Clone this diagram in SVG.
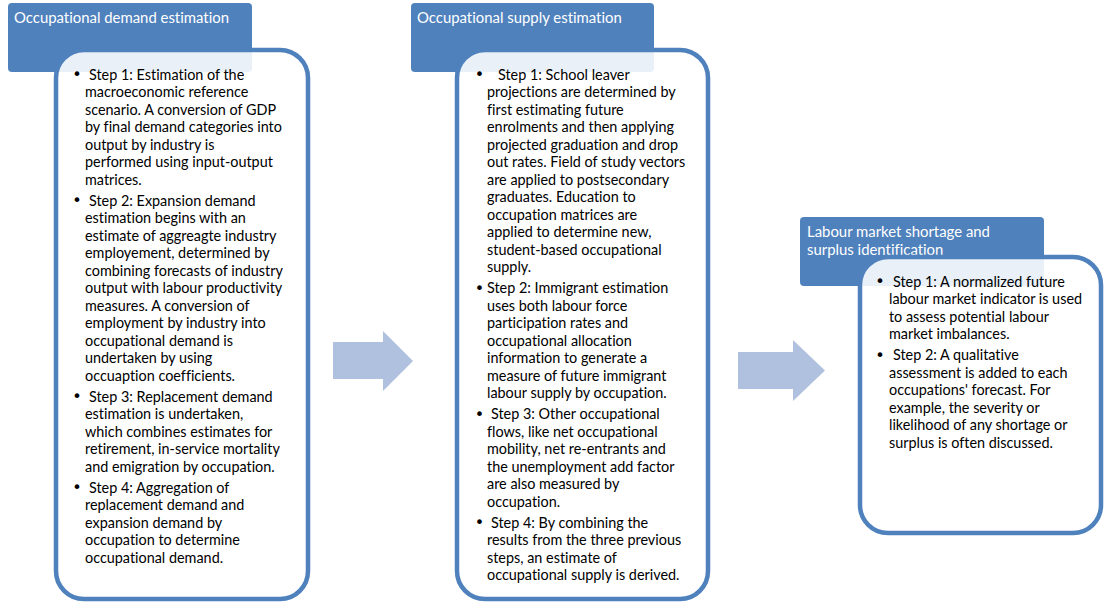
<svg xmlns="http://www.w3.org/2000/svg" width="1104" height="602" viewBox="0 0 1104 602">
  <style>
    text { font-variant-ligatures: none; }
    .head { fill: #4F81BD; }
    .head-text { font-family: Lato, "Liberation Sans", sans-serif; font-size: 14.9px; fill: #FFFFFF; }
    .panel { fill: #FFFFFF; fill-opacity: 0.88; stroke: #4F81BD; stroke-width: 4.5; }
    .body { font-family: Lato, "Liberation Sans", sans-serif; font-size: 14.4px; fill: #000000; }
    .bullet { font-family: "DejaVu Sans", sans-serif; font-size: 16px; fill: #000000; text-anchor: middle; }
    .flow { fill: #AFC1DE; }
  </style>

  <!-- Stage 1: demand -->
  <g id="demand">
    <rect class="head" x="8" y="3" width="244" height="69" rx="4"/>
    <text class="head-text" x="14" y="23">Occupational demand estimation</text>
    <rect class="panel" x="56" y="50" width="252" height="549" rx="28"/>
    <g class="bullet">
      <text x="77" y="80">•</text>
      <text x="77" y="206">•</text>
      <text x="77" y="402">•</text>
      <text x="77" y="493">•</text>
    </g>
    <text class="body">
      <tspan x="89" y="79.5">Step 1: Estimation of the</tspan>
      <tspan x="85" y="97">macroeconomic reference</tspan>
      <tspan x="85" y="114.5">scenario. A conversion of GDP</tspan>
      <tspan x="85" y="132">by final demand categories into</tspan>
      <tspan x="85" y="149.5">output by industry is</tspan>
      <tspan x="85" y="167">performed using input-output</tspan>
      <tspan x="85" y="184.5">matrices.</tspan>
      <tspan x="89" y="205.5">Step 2: Expansion demand</tspan>
      <tspan x="85" y="223">estimation begins with an</tspan>
      <tspan x="85" y="240.5">estimate of aggreagte industry</tspan>
      <tspan x="85" y="258">employement, determined by</tspan>
      <tspan x="85" y="275.5">combining forecasts of industry</tspan>
      <tspan x="85" y="293">output with labour productivity</tspan>
      <tspan x="85" y="310.5">measures. A conversion of</tspan>
      <tspan x="85" y="328">employment by industry into</tspan>
      <tspan x="85" y="345.5">occupational demand is</tspan>
      <tspan x="85" y="363">undertaken by using</tspan>
      <tspan x="85" y="380.5">occuaption coefficients.</tspan>
      <tspan x="89" y="401.5">Step 3: Replacement demand</tspan>
      <tspan x="85" y="419">estimation is undertaken,</tspan>
      <tspan x="85" y="436.5">which combines estimates for</tspan>
      <tspan x="85" y="454">retirement, in-service mortality</tspan>
      <tspan x="85" y="471.5">and emigration by occupation.</tspan>
      <tspan x="89" y="492.5">Step 4: Aggregation of</tspan>
      <tspan x="85" y="510">replacement demand and</tspan>
      <tspan x="85" y="527.5">expansion demand by</tspan>
      <tspan x="85" y="545">occupation to determine</tspan>
      <tspan x="85" y="562.5">occupational demand.</tspan>
    </text>
  </g>

  <!-- Stage 2: supply -->
  <g id="supply">
    <rect class="head" x="411" y="3" width="243" height="69" rx="4"/>
    <text class="head-text" x="417" y="23">Occupational supply estimation</text>
    <rect class="panel" x="457" y="50" width="251" height="549" rx="28"/>
    <g class="bullet">
      <text x="479.5" y="80">•</text>
      <text x="479.5" y="293.5">•</text>
      <text x="479.5" y="419.5">•</text>
      <text x="479.5" y="528">•</text>
    </g>
    <text class="body">
      <tspan x="498" y="79.5">Step 1: School leaver</tspan>
      <tspan x="487" y="97">projections are determined by</tspan>
      <tspan x="487" y="114.5">first estimating future</tspan>
      <tspan x="487" y="132">enrolments and then applying</tspan>
      <tspan x="487" y="149.5">projected graduation and drop</tspan>
      <tspan x="487" y="167">out rates. Field of study vectors</tspan>
      <tspan x="487" y="184.5">are applied to postsecondary</tspan>
      <tspan x="487" y="202">graduates. Education to</tspan>
      <tspan x="487" y="219.5">occupation matrices are</tspan>
      <tspan x="487" y="237">applied to determine new,</tspan>
      <tspan x="487" y="254.5">student-based occupational</tspan>
      <tspan x="487" y="272">supply.</tspan>
      <tspan x="487" y="293">Step 2: Immigrant estimation</tspan>
      <tspan x="487" y="310.5">uses both labour force</tspan>
      <tspan x="487" y="328">participation rates and</tspan>
      <tspan x="487" y="345.5">occupational allocation</tspan>
      <tspan x="487" y="363">information to generate a</tspan>
      <tspan x="487" y="380.5">measure of future immigrant</tspan>
      <tspan x="487" y="398">labour supply by occupation.</tspan>
      <tspan x="491" y="419">Step 3: Other occupational</tspan>
      <tspan x="487" y="436.5">flows, like net occupational</tspan>
      <tspan x="487" y="454">mobility, net re-entrants and</tspan>
      <tspan x="487" y="471.5">the unemployment add factor</tspan>
      <tspan x="487" y="489">are also measured by</tspan>
      <tspan x="487" y="506.5">occupation.</tspan>
      <tspan x="491" y="527.5">Step 4: By combining the</tspan>
      <tspan x="487" y="545">results from the three previous</tspan>
      <tspan x="487" y="562.5">steps, an estimate of</tspan>
      <tspan x="487" y="580">occupational supply is derived.</tspan>
    </text>
  </g>

  <!-- Stage 3: imbalance identification -->
  <g id="imbalance">
    <rect class="head" x="800" y="217" width="244" height="69" rx="4"/>
    <text class="head-text">
      <tspan x="807" y="237">Labour market shortage and</tspan>
      <tspan x="807" y="254.5">surplus identification</tspan>
    </text>
    <rect class="panel" x="860" y="257" width="241" height="276" rx="28"/>
    <g class="bullet">
      <text x="880" y="287">•</text>
      <text x="880" y="360.5">•</text>
    </g>
    <text class="body">
      <tspan x="893" y="286.5">Step 1: A normalized future</tspan>
      <tspan x="889" y="304">labour market indicator is used</tspan>
      <tspan x="889" y="321.5">to assess potential labour</tspan>
      <tspan x="889" y="339">market imbalances.</tspan>
      <tspan x="893" y="360">Step 2: A qualitative</tspan>
      <tspan x="889" y="377.5">assessment is added to each</tspan>
      <tspan x="889" y="395">occupations' forecast. For</tspan>
      <tspan x="889" y="412.5">example, the severity or</tspan>
      <tspan x="889" y="430">likelihood of any shortage or</tspan>
      <tspan x="889" y="447.5">surplus is often discussed.</tspan>
    </text>
  </g>

  <!-- Block arrows between stages -->
  <g id="connectors">
    <polygon class="flow" points="333,342 383,342 383,331 413,361 383,391 383,379 333,379"/>
    <polygon class="flow" points="738,352 793,352 793,340 825,370.5 793,401 793,389 738,389"/>
  </g>
</svg>
